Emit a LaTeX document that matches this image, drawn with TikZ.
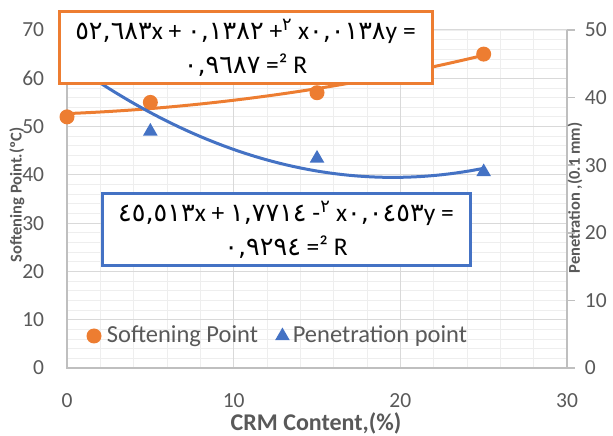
\documentclass[tikz,border=0pt]{standalone}
\usepackage{fontspec}
\setmainfont{Carlito}
\newfontfamily\arabicfont{DejaVu Sans}
\usetikzlibrary{positioning,shapes.geometric}
\definecolor{softOrange}{HTML}{ED7D31}
\definecolor{penBlue}{HTML}{4472C4}
\definecolor{labelGray}{HTML}{595959}
\definecolor{axisGray}{HTML}{BFBFBF}
\definecolor{gridMajor}{HTML}{D9D9D9}
\definecolor{gridMinor}{HTML}{EEEEEE}
\newcommand\ad[1]{{\arabicfont #1}}
\tikzset{
  ticklabel/.style={font=\fontsize{21.5}{26}\selectfont, text=labelGray, inner sep=1pt},
  legendtext/.style={font=\fontsize{24.5}{28}\selectfont, text=labelGray, inner sep=1pt},
  axistitle/.style={font=\bfseries\fontsize{16.5}{19}\selectfont, text=labelGray, inner sep=0pt},
  axisline/.style={draw=axisGray, line width=1.5pt},
  eqbox/.style={draw, line width=3pt, fill=white, align=center, minimum height=72pt,
    font=\fontsize{25.5}{34}\selectfont, inner sep=0pt},
  softmark/.style={circle, fill=softOrange, inner sep=0pt, minimum size=15pt},
  penmark/.style={regular polygon, regular polygon sides=3, fill=penBlue, inner sep=0pt, minimum size=17pt},
}
\begin{document}
\begin{tikzpicture}[x=1pt, y=1pt]
  \useasboundingbox (0,0) rectangle (613,436);
  % softening point axis
  \begin{scope}[shift={(67,68)}, x=16.667pt, y=4.829pt]
    \foreach \gx in {0,2,...,30} \draw[gridMinor, line width=0.8pt] (\gx,0) -- (\gx,70);
    \foreach \gy in {0,2,...,70} \draw[gridMinor, line width=0.8pt] (0,\gy) -- (30,\gy);
    \foreach \gx in {10,20} \draw[gridMajor, line width=1pt] (\gx,0) -- (\gx,70);
    \foreach \gy in {10,20,...,70} \draw[gridMajor, line width=1pt] (0,\gy) -- (30,\gy);
    \draw[axisline] (0,70) -- (0,0) -- (30,0) -- (30,70);
    \foreach \v in {0,10,...,70} \node[ticklabel, anchor=east] (ylab\v) at (-1.3,\v) {\v};
    \foreach \v in {0,10,20,30} \node[ticklabel] (xlab\v) at (\v,-6.8) {\v};
    \draw[softOrange, line width=3pt] plot[domain=0:25, samples=60]
      (\x, {0.0138*\x*\x + 0.1382*\x + 52.683});
    \foreach \cx/\cy [count=\i] in {0/52,5/55,15/57,25/65}
      \node[softmark] (soft\i) at (\cx,\cy) {};
  \end{scope}
  % penetration axis
  \begin{scope}[shift={(67,68)}, x=16.667pt, y=6.76pt]
    \foreach \p in {0,10,...,50} {
      \draw[axisline] (30,\p) -- ++(7.5pt,0);
      \node[ticklabel, anchor=west] (plab\p) at (31,\p) {\p};
    }
    \draw[penBlue, line width=3pt] plot[domain=0:25, samples=60]
      (\x, {0.0453*\x*\x - 1.7714*\x + 45.513});
    \foreach \cx/\cy [count=\i] in {5/35,15/31,25/29}
      \node[penmark] (pen\i) at (\cx,\cy) {};
  \end{scope}
  \node[axistitle, rotate=90] (softtitle) at (17,241) {Softening Point.(ºC)};
  \node[axistitle, rotate=90] (pentitle) at (575,238) {Penetration ,(0.1 mm)};
  \node[font=\bfseries\fontsize{24}{28}\selectfont, text=labelGray, inner sep=0pt, anchor=south]
    (crmtitle) at (316,1.5) {CRM Content,(\%)};
  \node[eqbox, draw=softOrange, minimum width=373pt] (softfit) at (245.5,388)
    {\ad{٥٢,٦٨٣}x + \ad{٠,١٣٨٢} +\textsuperscript{\ad{٢}} x\ad{٠,٠١٣٨}y =\\ \ad{٠,٩٦٨٧} =² R};
  \node[eqbox, draw=penBlue, minimum width=368pt] (penfit) at (286,206.5)
    {\ad{٤٥,٥١٣}x + \ad{١,٧٧١٤} -\textsuperscript{\ad{٢}} x\ad{٠,٠٤٥٣}y =\\ \ad{٠,٩٢٩٤} =² R};
  \node[softmark] (legsoft) at (94,100) {};
  \node[legendtext, right=4pt of legsoft] (legsofttext) {Softening Point};
  \node[penmark, right=18pt of legsofttext] (legpen) {};
  \node[legendtext, right=4pt of legpen] (legpentext) {Penetration point};
\end{tikzpicture}
\end{document}
